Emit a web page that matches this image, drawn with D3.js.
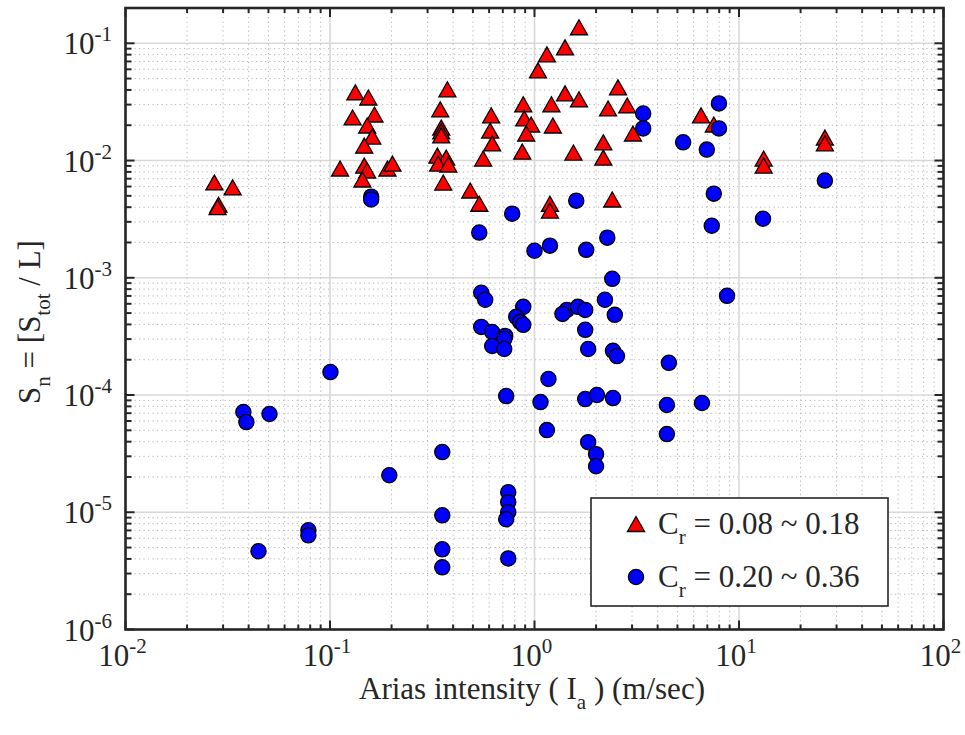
<!DOCTYPE html>
<html><head><meta charset="utf-8">
<script src="https://cdn.jsdelivr.net/npm/d3@7"></script>
<style>body{margin:0;background:#fff}svg{display:block}text{font-family:"Liberation Serif","Times New Roman",serif;fill:#262626}</style>
</head><body><svg id="c" width="965" height="735"></svg>
<script>
// Series 1: C_r = 0.08 ~ 0.18 (red triangles)
const triX = [0.0272,0.0334,0.0285,0.0282,0.133,0.154,0.129,0.165,0.152,0.161,0.147,0.112,0.147,0.152,0.144,0.191,0.202,
  0.375,0.346,0.350,0.350,0.350,0.335,0.370,0.338,0.379,0.358,0.485,0.537,0.614,0.607,0.621,0.561,
  0.881,0.891,0.963,0.911,0.871,1.04,1.15,1.41,1.65,1.21,1.23,1.41,1.65,1.19,1.19,1.55,
  2.29,2.56,2.84,2.17,2.17,3.03,2.40,6.52,7.53,26.3,26.3,13.2,13.2];
const triY = [0.0065,0.0059,0.0042,0.0040,0.0381,0.0345,0.0233,0.0247,0.0199,0.0160,0.0134,0.00855,0.00906,0.00822,0.00689,0.00855,0.00942,
  0.0405,0.0273,0.0191,0.0177,0.0164,0.0110,0.0106,0.00942,0.00925,0.00649,0.00555,0.00428,0.0243,0.0180,0.0140,0.0104,
  0.0302,0.0229,0.0203,0.0170,0.0119,0.0588,0.0805,0.0924,0.137,0.0302,0.0199,0.0374,0.0332,0.00428,0.00374,0.0117,
  0.0278,0.0421,0.0295,0.0143,0.0106,0.0170,0.00465,0.0243,0.0203,0.0157,0.0140,0.0104,0.00906];
// Series 2: C_r = 0.20 ~ 0.36 (blue circles)
const cirX = [0.159,0.159,3.40,3.40,5.33,7.98,7.98,6.96,26.3,7.53,13.1,7.36,1.60,0.778,0.537,1.00,1.19,1.79,2.27,2.40,8.74,
  0.549,0.574,0.881,0.814,0.851,0.881,0.549,0.621,0.719,0.712,0.621,0.711,2.21,1.44,1.63,1.77,1.37,2.47,1.77,1.83,2.42,2.53,4.54,
  1.17,0.727,1.07,1.77,2.02,2.42,4.44,6.59,1.15,1.83,2.00,2.00,4.44,0.1005,0.0377,0.0390,0.0506,0.195,0.0447,0.0784,0.0784,
  0.354,0.354,0.354,0.354,0.744,0.744,0.744,0.727,0.744];
const cirY = [0.00492,0.00465,0.0252,0.0188,0.0143,0.0307,0.0188,0.0124,0.00675,0.00522,0.00319,0.00278,0.00455,0.00352,0.00243,0.00170,0.00188,0.00173,0.00220,0.000980,0.000702,
  0.000745,0.000649,0.000565,0.000464,0.000421,0.000397,0.000381,0.000345,0.000319,0.000301,0.000262,0.000247,0.000649,0.000532,0.000565,0.000532,0.000492,0.000483,0.000360,0.000247,0.000238,0.000215,0.000188,
  0.000137,0.0000980,0.0000871,0.0000924,0.000100,0.0000942,0.0000822,0.0000855,0.0000502,0.0000396,0.0000313,0.0000247,0.0000464,0.000157,0.0000716,0.0000588,0.0000689,0.0000207,0.00000465,0.00000702,0.00000636,
  0.0000326,0.00000942,0.00000483,0.00000339,0.0000148,0.0000122,0.0000100,0.00000871,0.00000404];
const xTickExp = [-2,-1,0,1,2];
const yTickExp = [-6,-5,-4,-3,-2,-1];
const legendLabels = [["C","r"," = 0.08 ~ 0.18"],["C","r"," = 0.20 ~ 0.36"]];

const svg = d3.select("#c");
const L=125.5, R=943.5, T=8, B=629.5;
const x = d3.scaleLog().domain([0.01,100]).range([L,R]);
const y = d3.scaleLog().domain([1e-6,0.2]).range([B,T]);
const AX="#262626";
const FS=31, SS=21;

const xMinor=[], yMinor=[];
for(let e=-2;e<2;e++) for(let k=2;k<=9;k++) xMinor.push(k*Math.pow(10,e));
for(let e=-6;e<0;e++) for(let k=2;k<=9;k++){const v=k*Math.pow(10,e); if(v<=0.2+1e-12) yMinor.push(v);}
const xMajor=xTickExp.map(e=>Math.pow(10,e)), yMajor=yTickExp.map(e=>Math.pow(10,e));

const g=svg.append("g");
g.selectAll(".xm").data(xMinor).enter().append("line")
  .attr("x1",d=>x(d)).attr("x2",d=>x(d)).attr("y1",T).attr("y2",B)
  .attr("stroke","#b5b5b5").attr("stroke-width",1).attr("stroke-dasharray","1.2,3.3");
g.selectAll(".ym").data(yMinor).enter().append("line")
  .attr("y1",d=>y(d)).attr("y2",d=>y(d)).attr("x1",L).attr("x2",R)
  .attr("stroke","#b5b5b5").attr("stroke-width",1).attr("stroke-dasharray","1.2,3.3");
g.selectAll(".xM").data(xMajor).enter().append("line")
  .attr("x1",d=>x(d)).attr("x2",d=>x(d)).attr("y1",T).attr("y2",B)
  .attr("stroke","#d8d8d8").attr("stroke-width",1.6);
g.selectAll(".yM").data(yMajor).enter().append("line")
  .attr("y1",d=>y(d)).attr("y2",d=>y(d)).attr("x1",L).attr("x2",R)
  .attr("stroke","#d8d8d8").attr("stroke-width",1.6);

const t=svg.append("g").attr("stroke",AX).attr("stroke-width",2);
xMinor.forEach(v=>{const p=x(v);
  t.append("line").attr("x1",p).attr("x2",p).attr("y1",B).attr("y2",B-5);
  t.append("line").attr("x1",p).attr("x2",p).attr("y1",T).attr("y2",T+5);});
xMajor.forEach(v=>{const p=x(v);
  t.append("line").attr("x1",p).attr("x2",p).attr("y1",B).attr("y2",B-9);
  t.append("line").attr("x1",p).attr("x2",p).attr("y1",T).attr("y2",T+9);});
yMinor.forEach(v=>{const p=y(v);
  t.append("line").attr("y1",p).attr("y2",p).attr("x1",L).attr("x2",L+6);
  t.append("line").attr("y1",p).attr("y2",p).attr("x1",R).attr("x2",R-6);});
yMajor.forEach(v=>{const p=y(v);
  t.append("line").attr("y1",p).attr("y2",p).attr("x1",L).attr("x2",L+9);
  t.append("line").attr("y1",p).attr("y2",p).attr("x1",R).attr("x2",R-9);});
svg.append("rect").attr("x",L).attr("y",T).attr("width",R-L).attr("height",B-T)
  .attr("fill","none").attr("stroke",AX).attr("stroke-width",2.6);

// tick labels
xTickExp.forEach(e=>{
  const tx=svg.append("text").attr("x",x(Math.pow(10,e))-3).attr("y",666).attr("text-anchor","middle").attr("font-size",FS);
  tx.append("tspan").text("10");
  tx.append("tspan").attr("dy",-13).attr("font-size",SS).text(String(e));
});
yTickExp.forEach(e=>{
  const ty=svg.append("text").attr("x",112).attr("y",y(Math.pow(10,e))+11).attr("text-anchor","end").attr("font-size",FS);
  ty.append("tspan").text("10");
  ty.append("tspan").attr("dy",-13).attr("font-size",SS).text(String(e));
});

// axis labels
const xl=svg.append("text").attr("x",532).attr("y",699).attr("text-anchor","middle").attr("font-size",FS);
xl.append("tspan").text("Arias intensity ( I");
xl.append("tspan").attr("dy",10).attr("font-size",SS).text("a");
xl.append("tspan").attr("dy",-10).text(" ) (m/sec)");

const yl=svg.append("text").attr("transform","translate(40,322) rotate(-90)").attr("text-anchor","middle").attr("font-size",FS);
yl.append("tspan").text("S");
yl.append("tspan").attr("dy",10).attr("font-size",SS).text("n");
yl.append("tspan").attr("dy",-10).text(" = [S");
yl.append("tspan").attr("dy",10).attr("font-size",SS).text("tot");
yl.append("tspan").attr("dy",-10).text(" / L]");

// markers
const tri="M0,-7.5L8.5,7.5L-8.5,7.5Z";
const triData=triX.map((v,i)=>[v,triY[i]]);
const cirData=cirX.map((v,i)=>[v,cirY[i]]);
svg.append("g").selectAll("path").data(triData).enter().append("path")
  .attr("d",tri).attr("transform",d=>`translate(${x(d[0])},${y(d[1])})`)
  .attr("fill","#ff0000").attr("stroke","#000").attr("stroke-width",1.3);
svg.append("g").selectAll("circle").data(cirData).enter().append("circle")
  .attr("cx",d=>x(d[0])).attr("cy",d=>y(d[1])).attr("r",7.6)
  .attr("fill","#0000ff").attr("stroke","#000").attr("stroke-width",1.3);

// legend
const lg=svg.append("g");
lg.append("rect").attr("x",591).attr("y",498).attr("width",297).attr("height",108)
  .attr("fill","#fff").attr("stroke",AX).attr("stroke-width",1.6);
lg.append("path").attr("d",tri).attr("transform","translate(636,524)")
  .attr("fill","#ff0000").attr("stroke","#000").attr("stroke-width",1.3);
lg.append("circle").attr("cx",636).attr("cy",577).attr("r",7.6)
  .attr("fill","#0000ff").attr("stroke","#000").attr("stroke-width",1.3);
legendLabels.forEach((lab,i)=>{
  const tl=lg.append("text").attr("x",658).attr("y",[534,587][i]).attr("font-size",FS);
  tl.append("tspan").text(lab[0]);
  tl.append("tspan").attr("dy",10).attr("font-size",SS).text(lab[1]);
  tl.append("tspan").attr("dy",-10).text(lab[2]);
});
</script></body></html>
